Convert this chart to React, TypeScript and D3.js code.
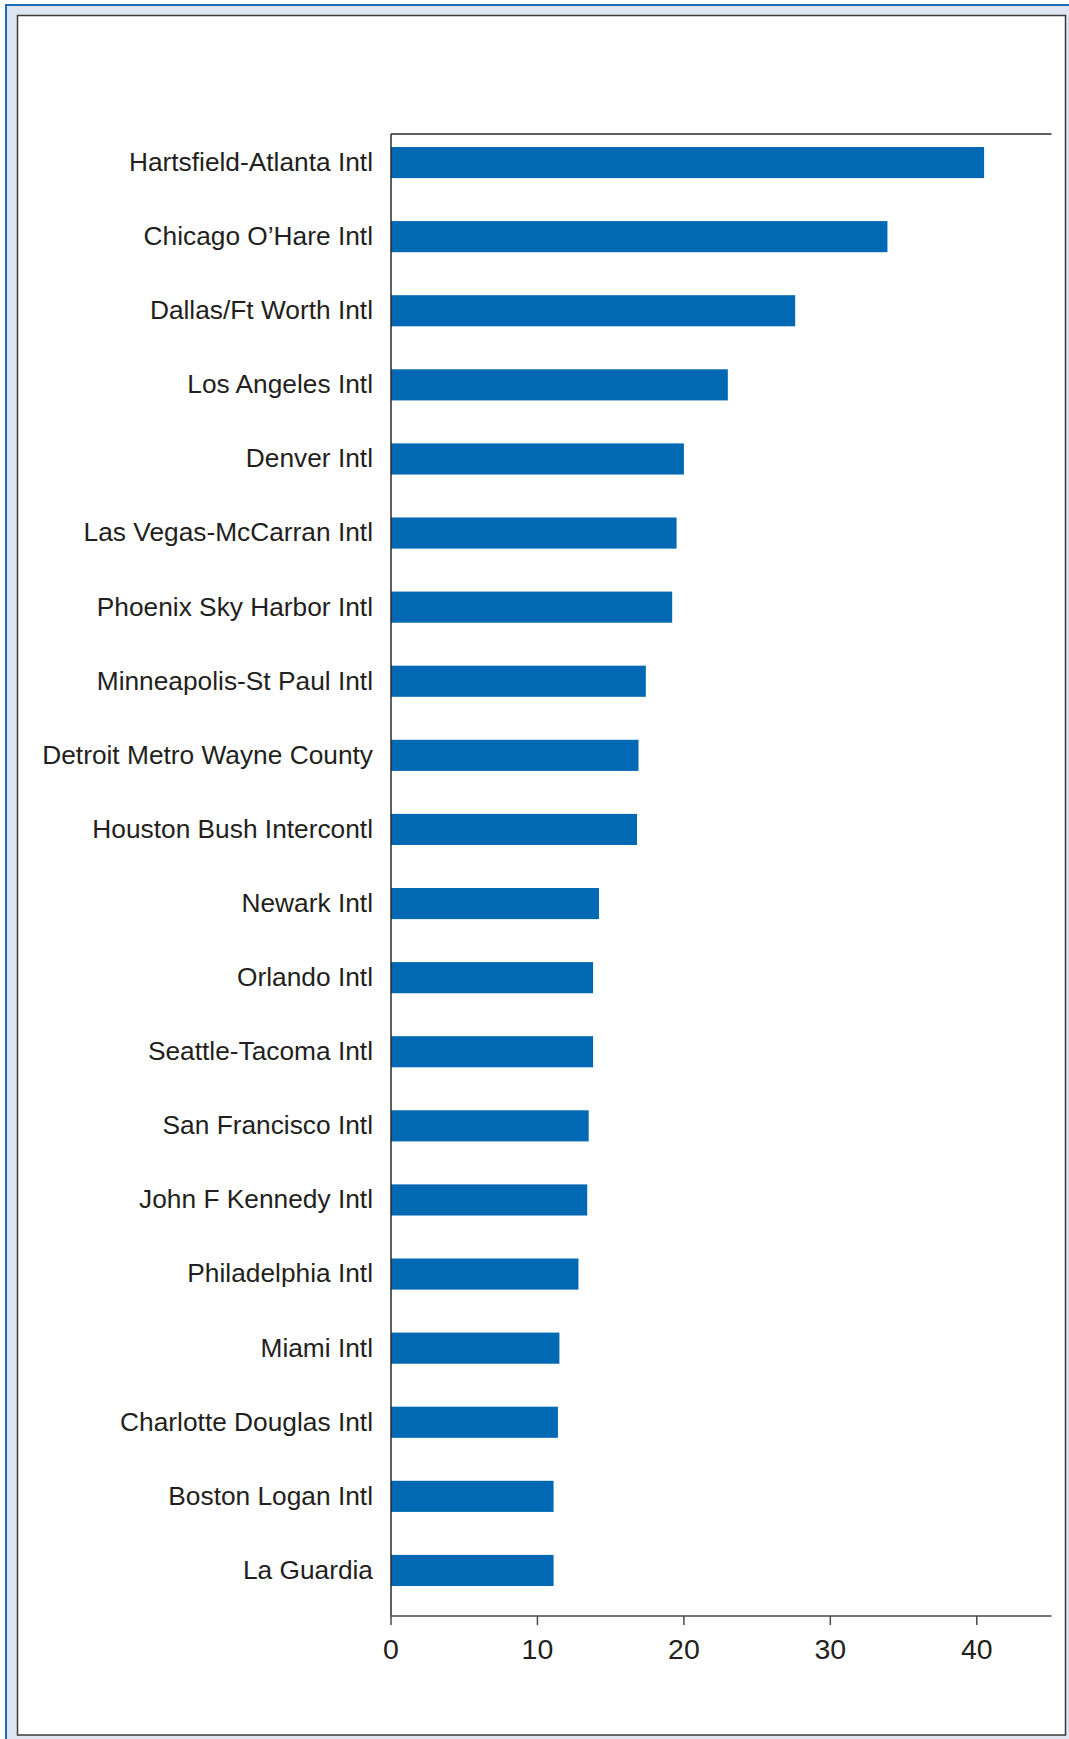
import React from "react";
import * as d3 from "d3";

// Airports, top to bottom
const airports = [
  "Hartsfield-Atlanta Intl",
  "Chicago O\u2019Hare Intl",
  "Dallas/Ft Worth Intl",
  "Los Angeles Intl",
  "Denver Intl",
  "Las Vegas-McCarran Intl",
  "Phoenix Sky Harbor Intl",
  "Minneapolis-St Paul Intl",
  "Detroit Metro Wayne County",
  "Houston Bush Intercontl",
  "Newark Intl",
  "Orlando Intl",
  "Seattle-Tacoma Intl",
  "San Francisco Intl",
  "John F Kennedy Intl",
  "Philadelphia Intl",
  "Miami Intl",
  "Charlotte Douglas Intl",
  "Boston Logan Intl",
  "La Guardia",
];

// Value per airport
const counts = [
  40.5, 33.9, 27.6, 23.0, 20.0, 19.5, 19.2, 17.4, 16.9, 16.8,
  14.2, 13.8, 13.8, 13.5, 13.4, 12.8, 11.5, 11.4, 11.1, 11.1,
];

const xTickValues = [0, 10, 20, 30, 40];
const xDomainMax = 45;

const W = 1069;
const H = 1739;
const FONT = "'Liberation Sans', Arial, Helvetica, sans-serif";
const TEXT = "#231f20";
const BAR = "#0168b3";

export default function App() {
  const x = d3.scaleLinear().domain([0, xDomainMax]).range([391, 1050]);
  const y = d3
    .scaleBand<string>()
    .domain(airports)
    .range([125.5, 1607.5])
    .paddingInner(0.58)
    .paddingOuter(0.29);

  const plotTop = 134;
  const plotBottom = 1616;
  const x0 = x(0);
  const xEnd = x.range()[1] + 1.5;

  return (
    <svg
      width={W}
      height={H}
      style={{ position: "absolute", left: 0, top: 0, background: "#fff" }}
      fontFamily={FONT}
    >
      {/* page frame */}
      <rect x={0} y={0} width={W} height={H} fill="#ffffff" />
      <rect x={6} y={5} width={W} height={H} fill="#dfe6f2" stroke="#1c6db6" strokeWidth={2} />
      <rect x={17.5} y={15.5} width={1048} height={1719.5} fill="#ffffff" stroke="#3a3a3a" strokeWidth={1.5} />

      {/* bars */}
      {airports.map((a, i) => (
        <rect
          key={a}
          x={x0}
          y={y(a)}
          width={x(counts[i]) - x0}
          height={y.bandwidth()}
          fill={BAR}
        />
      ))}

      {/* frame lines of the plot */}
      <line x1={x0} x2={xEnd} y1={plotTop} y2={plotTop} stroke="#2a2a2a" strokeWidth={1.6} />
      <line x1={x0} x2={x0} y1={plotTop} y2={plotBottom} stroke="#2a2a2a" strokeWidth={1.5} />
      <line x1={x0} x2={xEnd} y1={plotBottom} y2={plotBottom} stroke="#4a4a4a" strokeWidth={1.6} />

      {/* x ticks */}
      {xTickValues.map((t) => (
        <g key={t} transform={`translate(${x(t)},0)`}>
          <line y1={plotBottom} y2={plotBottom + 9} stroke="#4a4a4a" strokeWidth={1.5} />
          <text
            y={1659}
            textAnchor="middle"
            fontSize={28.5}
            fill={TEXT}
          >
            {t}
          </text>
        </g>
      ))}

      {/* category labels */}
      {airports.map((a) => (
        <text
          key={a}
          x={373}
          y={(y(a) ?? 0) + y.bandwidth() / 2}
          dy="0.32em"
          textAnchor="end"
          fontSize={26.3}
          fill={TEXT}
        >
          {a}
        </text>
      ))}
    </svg>
  );
}
